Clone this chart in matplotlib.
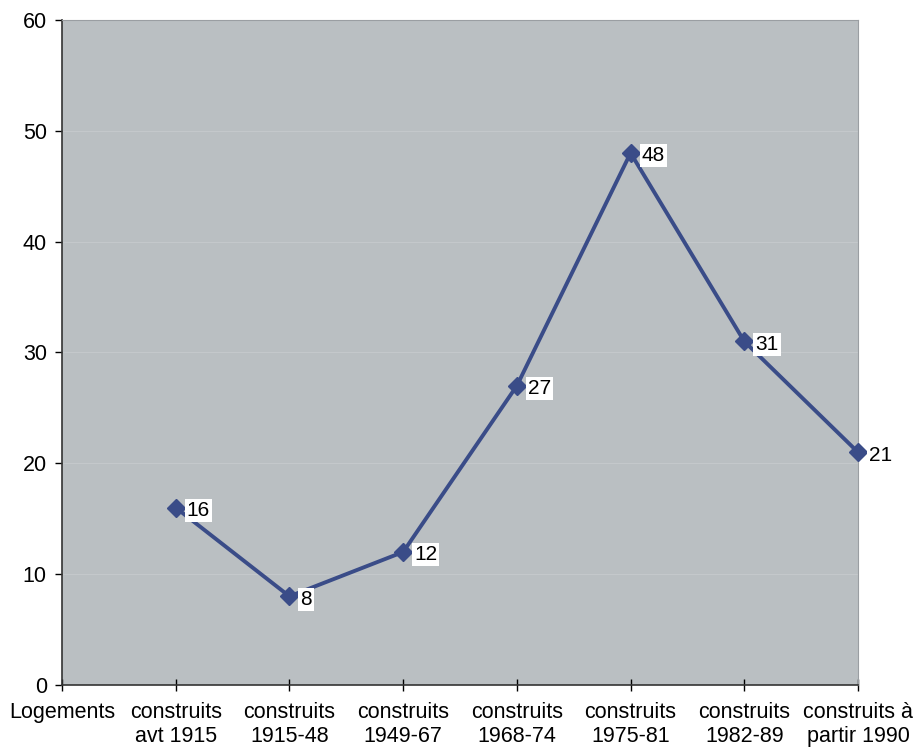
import numpy as np
import matplotlib.pyplot as plt

plt.rcParams["font.family"] = ["Liberation Sans", "DejaVu Sans"]

categories = [
    "Logements",
    "construits\navt 1915",
    "construits\n1915-48",
    "construits\n1949-67",
    "construits\n1968-74",
    "construits\n1975-81",
    "construits\n1982-89",
    "construits à\npartir 1990",
]
values = [np.nan, 16, 8, 12, 27, 48, 31, 21]

LINE_COLOR = "#3a4c88"
BG_COLOR = "#babfc2"

fig = plt.figure(figsize=(9.15, 7.51), dpi=100)
ax = fig.add_axes([0.0678, 0.0879, 0.8699, 0.8855])
ax.set_facecolor(BG_COLOR)

x = np.arange(len(categories))
ax.plot(x, values, color=LINE_COLOR, lw=2.8, marker="D", ms=9,
        markerfacecolor=LINE_COLOR, markeredgecolor=LINE_COLOR, clip_on=False, zorder=3)

for xi, v in zip(x, values):
    if np.isnan(v):
        continue
    ax.annotate(f"{v:g}", (xi, v), xytext=(8, -2), textcoords="offset points",
                ha="left", va="center", fontsize=15,
                bbox=dict(boxstyle="square,pad=0.1", fc="white", ec="none"),
                zorder=4, annotation_clip=False)

ax.set_xlim(0, 7)
ax.set_ylim(0, 60)
ax.set_yticks(range(0, 61, 10))
ax.set_xticks(x)
ax.set_xticklabels(categories, fontsize=15.5)
ax.tick_params(axis="y", labelsize=15.5, direction="out", length=5, width=1, pad=6)
ax.tick_params(axis="x", direction="inout", length=8, width=1, pad=8)
ax.grid(axis="y", color="#c4c8cb", lw=0.8)
ax.set_axisbelow(True)

for side in ["left", "bottom"]:
    ax.spines[side].set_color("#333333")
    ax.spines[side].set_linewidth(1.2)
for side in ["top", "right"]:
    ax.spines[side].set_color("#9a9ea2")
    ax.spines[side].set_linewidth(0.8)

fig.savefig("out.png", dpi=100)
